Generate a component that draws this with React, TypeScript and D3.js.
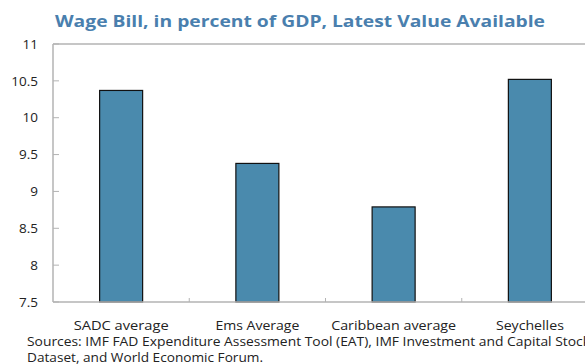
import React from "react";
import * as d3 from "d3";

const categories = ["SADC average", "Ems Average", "Caribbean average", "Seychelles"];
const values = [10.37, 9.38, 8.79, 10.52];
const yTicks = [7.5, 8, 8.5, 9, 9.5, 10, 10.5, 11];
const yTickLabels = ["7.5", "8", "8.5", "9", "9.5", "10", "10.5", "11"];
const title = "Wage Bill, in percent of GDP, Latest Value Available";
const sourceLines = [
  "Sources: IMF FAD Expenditure Assessment Tool (EAT),  IMF Investment and Capital Stock",
  "Dataset, and World Economic Forum.",
];

export default function App() {
  const W = 585, H = 364;
  const left = 53, top = 44, bottom = 302, right = 598;
  const x = d3.scaleBand<string>().domain(categories).range([left, right]).paddingInner(0).paddingOuter(0);
  const y = d3.scaleLinear().domain([7.5, 11]).range([bottom, top]);
  const barW = 43;
  const font = "'Open Sans', sans-serif";
  const axisColor = "#b3b3b3";
  const catLen = [95, 84, 125, 68];
  const srcLen = [563, 236];
  return (
    <svg width={W} height={H} style={{ position: "absolute", left: 0, top: 0, background: "#fff" }}>
      <text x={55} y={27} fontFamily={font} fontWeight="bold" fontSize={16.5} fill="#4a7fae"
        textLength={490} lengthAdjust="spacingAndGlyphs">{title}</text>
      {categories.map((c, i) => {
        const cx = x(c)! + x.bandwidth() / 2;
        return (
          <rect key={c} x={cx - barW / 2} y={y(values[i])} width={barW} height={bottom - y(values[i])}
            fill="#4a8aad" stroke="#111" strokeWidth={1.2} />
        );
      })}
      <line x1={left} x2={right} y1={top} y2={top} stroke={axisColor} strokeWidth={1.5} />
      <line x1={left} x2={left} y1={top} y2={bottom} stroke={axisColor} strokeWidth={1.5} />
      <line x1={left} x2={right} y1={bottom} y2={bottom} stroke={axisColor} strokeWidth={1.5} />
      {yTicks.map((t, i) => (
        <g key={t}>
          <line x1={left} x2={left + 6} y1={y(t)} y2={y(t)} stroke={axisColor} strokeWidth={1} />
          <text x={38} y={y(t)} dy="0.35em" textAnchor="end" fontFamily={font} fontSize={13.5} fill="#222">{yTickLabels[i]}</text>
        </g>
      ))}
      {categories.slice(1).map((c) => (
        <line key={c} x1={x(c)!} x2={x(c)!} y1={bottom} y2={bottom - 4} stroke={axisColor} strokeWidth={1} />
      ))}
      {categories.map((c, i) => (
        <text key={c} x={x(c)! + x.bandwidth() / 2} y={329.5} textAnchor="middle" fontFamily={font} fontSize={13.5} fill="#222"
          textLength={catLen[i]} lengthAdjust="spacingAndGlyphs">{c}</text>
      ))}
      {sourceLines.map((s, i) => (
        <text key={i} x={27} y={346 + i * 15.5} fontFamily={font} fontSize={12.5} fill="#222"
          textLength={srcLen[i]} lengthAdjust="spacingAndGlyphs">{s}</text>
      ))}
    </svg>
  );
}
